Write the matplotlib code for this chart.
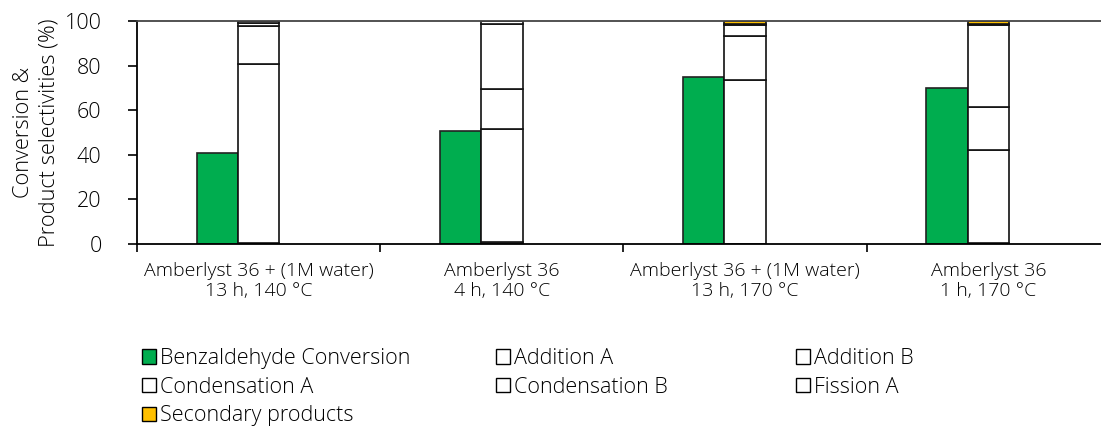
import matplotlib
matplotlib.use("Agg")
import matplotlib.pyplot as plt
from matplotlib.patches import Patch

categories = ["Amberlyst 36 + (1M water)\n13 h, 140 °C",
              "Amberlyst 36\n4 h, 140 °C",
              "Amberlyst 36 + (1M water)\n13 h, 170 °C",
              "Amberlyst 36\n1 h, 170 °C"]
conversion = [41.0, 50.5, 75.0, 70.0]
addition_a = [0.3, 1.0, 0.2, 0.6]
addition_b = [80.2, 50.5, 73.3, 41.6]
condensation_a = [17.4, 18.0, 19.9, 19.1]
condensation_b = [1.3, 29.0, 4.8, 36.9]
fission_a = [0.6, 1.3, 0.6, 0.6]
secondary = [0.2, 0.2, 1.2, 1.2]

plt.rcParams['font.family'] = ['Open Sans', 'DejaVu Sans']
FW = 'light'

fig = plt.figure(figsize=(11.01, 4.43), dpi=100)
ax = fig.add_axes([137/1101, 1-244/443, 1-137/1101, (244-21)/443])

x = list(range(len(categories)))
w = 0.17
green = "#00AD4F"
orange = "#FFC000"
ax.bar([i - w for i in x], conversion, width=w, align='center',
       color=green, edgecolor='#222222', linewidth=1.2)
stack = [addition_a, addition_b, condensation_a, condensation_b, fission_a, secondary]
colors = ['white'] * 5 + [orange]
bottom = [0.0] * 4
for vals, c in zip(stack, colors):
    ax.bar(x, vals, bottom=bottom, width=w, color=c, edgecolor='#111111', linewidth=1.2)
    bottom = [b + v for b, v in zip(bottom, vals)]

ax.set_ylim(0, 100)
ax.set_xlim(-0.5, 3.5 - 9/243.3)
ax.set_yticks([0, 20, 40, 60, 80, 100])
ax.tick_params(axis='y', labelsize=15.5, length=6.5, width=1.2, direction='out', pad=19)
for t in ax.get_yticklabels():
    t.set_fontweight(FW)
ax.set_xticks(x)
ax.set_xticklabels(categories, fontsize=14, fontweight=FW, linespacing=1.15)
ax.set_xticks([-0.5, 0.5, 1.5, 2.5], minor=True)
ax.tick_params(axis='x', which='major', length=0, pad=13)
ax.tick_params(axis='x', which='minor', length=6, width=1.2)
ax.spines['right'].set_visible(False)
for s in ('left', 'bottom', 'top'):
    ax.spines[s].set_linewidth(1.3)
ax.spines['top'].set_color('#444444')
ax.set_ylabel("Conversion &\nProduct selectivities (%)", fontsize=15.7, fontweight=FW, labelpad=4, linespacing=1.25)

def h(c):
    return Patch(facecolor=c, edgecolor='black', linewidth=1.0)

cols = [
    ([h(green), h('white'), h(orange)], ["Benzaldehyde Conversion", "Condensation A", "Secondary products"], 142),
    ([h('white'), h('white')], ["Addition A", "Condensation B"], 496),
    ([h('white'), h('white')], ["Addition B", "Fission A"], 796),
]
for hs, ls, px in cols:
    fig.legend(hs, ls, loc='upper left', bbox_to_anchor=(px/1101, 1-348/443), frameon=False,
               prop={'size': 15.5, 'weight': FW}, handlelength=0.65, handleheight=0.65,
               handletextpad=0.2, labelspacing=0.36, borderaxespad=0, borderpad=0)

fig.savefig("out.png", dpi=100)
